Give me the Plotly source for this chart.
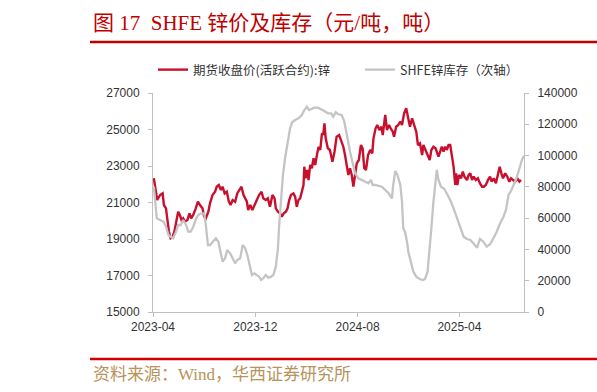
import plotly.graph_objects as go

# ---------------- data ----------------
price_dates = [
    "2023-04-03","2023-04-06","2023-04-11","2023-04-18","2023-04-24","2023-04-27","2023-05-02","2023-05-05",
    "2023-05-09","2023-05-13","2023-05-18","2023-05-22","2023-05-26","2023-05-31","2023-06-04","2023-06-08",
    "2023-06-12","2023-06-16","2023-06-22","2023-06-27","2023-07-01","2023-07-06","2023-07-12","2023-07-17",
    "2023-07-22","2023-07-28","2023-08-01","2023-08-05","2023-08-11","2023-08-15","2023-08-21","2023-08-27",
    "2023-08-31","2023-09-05","2023-09-10","2023-09-14","2023-09-19","2023-09-24","2023-09-29","2023-10-03",
    "2023-10-08","2023-10-14","2023-10-19","2023-10-24","2023-10-29","2023-11-03","2023-11-07","2023-11-11",
    "2023-11-14","2023-11-19","2023-11-24","2023-11-29","2023-12-05","2023-12-10","2023-12-16","2023-12-20",
    "2023-12-26","2023-12-31","2024-01-05","2024-01-11","2024-01-16","2024-01-19","2024-01-24","2024-01-29",
    "2024-02-02","2024-02-07","2024-02-12","2024-02-16","2024-02-20","2024-02-24","2024-03-01","2024-03-05",
    "2024-03-09","2024-03-13","2024-03-17","2024-03-21","2024-03-25","2024-03-27","2024-03-30","2024-04-03",
    "2024-04-06","2024-04-10","2024-04-14","2024-04-18","2024-04-22","2024-04-26","2024-04-30","2024-05-04",
    "2024-05-08","2024-05-11","2024-05-14","2024-05-17","2024-05-22","2024-05-27","2024-06-02","2024-06-07",
    "2024-06-12","2024-06-18","2024-06-24","2024-06-28","2024-07-02","2024-07-06","2024-07-10","2024-07-14",
    "2024-07-18","2024-07-22","2024-07-26","2024-07-30","2024-08-04","2024-08-09","2024-08-13","2024-08-17",
    "2024-08-21","2024-08-26","2024-08-31","2024-09-05","2024-09-08","2024-09-13","2024-09-17","2024-09-22",
    "2024-09-27","2024-09-30","2024-10-03","2024-10-06","2024-10-10","2024-10-15","2024-10-19","2024-10-24",
    "2024-10-27","2024-11-01","2024-11-06","2024-11-11","2024-11-15","2024-11-20","2024-11-25","2024-11-30",
    "2024-12-04","2024-12-09","2024-12-14","2024-12-19","2024-12-23","2024-12-28","2025-01-02","2025-01-05",
    "2025-01-10","2025-01-15","2025-01-20","2025-01-24","2025-01-29","2025-02-03","2025-02-08","2025-02-10",
    "2025-02-14","2025-02-18","2025-02-22","2025-02-26","2025-03-02","2025-03-06","2025-03-10","2025-03-14",
    "2025-03-18","2025-03-22","2025-03-24","2025-03-27","2025-03-31","2025-04-05","2025-04-09","2025-04-13",
    "2025-04-19","2025-04-23","2025-04-27","2025-05-01","2025-05-05","2025-05-10","2025-05-15","2025-05-20",
    "2025-05-25","2025-05-29","2025-06-03","2025-06-08","2025-06-13","2025-06-17","2025-06-22","2025-06-27",
    "2025-07-02","2025-07-06","2025-07-10","2025-07-14","2025-07-19","2025-07-24","2025-07-29","2025-08-02",
    "2025-08-07","2025-08-12","2025-08-17","2025-08-22","2025-08-26",
]
price_values = [
    22330,21780,21137,21411,21500,20863,20680,20134,
    19400,19038,19126,19400,19948,20496,20315,20041,
    20134,19948,20041,20406,20134,20315,20680,21044,
    20863,20680,20224,20134,20496,20954,21411,21592,
    21866,21959,21685,21866,21500,21592,21044,20863,
    21137,21044,21500,21685,21866,21411,21228,21044,
    20589,20863,20589,20863,21137,21411,21592,21228,
    21137,21228,20771,21411,21228,20680,20496,20406,
    20224,20406,20496,20680,21137,21411,21500,21320,
    20771,21137,21228,21592,21959,22963,22326,22781,
    22233,23055,22874,23422,23055,23603,24057,23877,
    24792,24699,25340,24518,23970,23877,23238,23785,
    24608,24699,24240,24057,23603,23055,22507,22874,
    22507,21866,22690,23148,23329,24150,23970,22874,
    22781,23603,23877,23696,24518,25066,25247,24973,
    25153,24699,25247,25795,24973,25247,25066,24880,
    24608,25153,25247,25430,25247,25886,26160,25613,
    25153,25613,25247,24880,24150,24240,23603,24150,
    23877,23603,23329,23877,24057,23970,23696,23512,
    23785,24057,23785,24057,23877,24150,24150,23603,
    22963,21959,22600,21959,22507,22326,22690,22417,
    22233,22507,22600,22233,22417,22233,22326,22050,
    21866,21866,21959,22233,22417,22141,22326,22050,
    22507,22963,22600,22326,22600,22417,22141,22326,
    22233,22141,22326,22141,22233,
]

stock_dates = [
    "2023-04-03","2023-04-10","2023-04-18","2023-04-26","2023-05-02","2023-05-08","2023-05-13","2023-05-19",
    "2023-05-26","2023-05-31","2023-06-06","2023-06-12","2023-06-19","2023-06-24","2023-06-30","2023-07-06",
    "2023-07-13","2023-07-18","2023-07-26","2023-08-01","2023-08-05","2023-08-10","2023-08-15","2023-08-21",
    "2023-08-29","2023-09-04","2023-09-10","2023-09-14","2023-09-20","2023-09-25","2023-10-02","2023-10-08",
    "2023-10-14","2023-10-19","2023-10-26","2023-11-01","2023-11-07","2023-11-12","2023-11-17","2023-11-23",
    "2023-11-29","2023-12-05","2023-12-10","2023-12-15","2023-12-20","2023-12-26","2024-01-01","2024-01-08",
    "2024-01-13","2024-01-19","2024-01-24","2024-01-27","2024-01-31","2024-02-05","2024-02-10","2024-02-16",
    "2024-02-22","2024-02-27","2024-03-05","2024-03-13","2024-03-21","2024-03-27","2024-04-02","2024-04-07",
    "2024-04-14","2024-04-20","2024-04-28","2024-05-06","2024-05-14","2024-05-22","2024-05-30","2024-06-04",
    "2024-06-10","2024-06-16","2024-06-24","2024-06-30","2024-07-02","2024-07-08","2024-07-14","2024-07-21",
    "2024-07-26","2024-08-03","2024-08-11","2024-08-19","2024-08-27","2024-09-02","2024-09-06","2024-09-12",
    "2024-09-20","2024-09-28","2024-10-06","2024-10-14","2024-10-22","2024-10-25","2024-10-30","2024-11-04",
    "2024-11-11","2024-11-15","2024-11-18","2024-11-22","2024-11-27","2024-11-30","2024-12-06","2024-12-12",
    "2024-12-19","2024-12-27","2025-01-04","2025-01-09","2025-01-15","2025-01-19","2025-01-24","2025-01-29",
    "2025-02-03","2025-02-06","2025-02-10","2025-02-16","2025-02-24","2025-03-04","2025-03-10","2025-03-18",
    "2025-03-26","2025-04-03","2025-04-11","2025-04-19","2025-04-27","2025-05-04","2025-05-13","2025-05-20",
    "2025-05-28","2025-06-05","2025-06-13","2025-06-21","2025-06-29","2025-07-07","2025-07-15","2025-07-21",
    "2025-07-27","2025-08-02","2025-08-09","2025-08-15","2025-08-21","2025-08-28","2025-09-02",
]
stock_values = [
    80100,59900,58800,57730,54530,49230,48140,47120,
    51330,55620,55620,58820,55620,51330,51330,54530,
    59900,62010,63100,63100,55620,42830,42830,44940,
    47120,44940,36440,32160,34330,39640,37530,34330,
    31130,33240,34330,42830,40720,36440,30050,23650,
    24740,23650,22570,20460,21540,23650,21930,22570,
    23650,28960,40720,55620,72690,87580,98260,108870,
    117440,121270,122750,123830,125940,129140,131250,129140,
    129780,130610,130610,129780,128500,127030,127030,124860,
    127670,126390,125940,122000,119550,111050,102480,93980,
    88670,85470,84390,83300,82280,84390,81190,81190,
    80740,80100,78000,75880,72690,81190,90140,87580,
    81190,70500,53510,51330,44940,38550,32160,25760,
    22570,21100,20460,21100,25760,36440,53510,70500,
    83300,90780,84390,80100,78640,74800,71600,66300,
    59900,53510,48140,46670,46030,43920,41110,46670,
    44940,41750,43280,47120,51330,56700,60930,65210,
    74800,77350,81190,85470,90780,97170,99920,
]

x_tick_vals = ["2023-04-01", "2023-12-01", "2024-08-01", "2025-04-01"]
x_tick_text = ["2023-04", "2023-12", "2024-08", "2025-04"]
left_ticks = [15000, 17000, 19000, 21000, 23000, 25000, 27000]
right_ticks = [0, 20000, 40000, 60000, 80000, 100000, 120000, 140000]

name_price = "期货收盘价(活跃合约):锌"
name_stock = "SHFE锌库存（次轴）"
title_text = "图 17  SHFE 锌价及库存（元/吨，吨）"
source_text = "资料来源：Wind，华西证券研究所"

# ---------------- layout helpers ----------------
W, H = 597, 392
L, R, T, B = 153, 524, 93, 312


def px(x):
    return (x - L) / (R - L)


def py(y):
    return (B - y) / (B - T)


RED = "#C8102E"
GRAY = "#C4C4C4"
AXIS = "#BFBFBF"
TICKFONT = dict(family="Liberation Sans, Arial, sans-serif", size=12, color="#333333")
CJK = "Noto Sans CJK SC, Noto Sans, sans-serif"
SERIF = "Liberation Serif, Times New Roman, Noto Sans CJK SC, serif"

fig = go.Figure()
fig.add_trace(go.Scatter(
    x=stock_dates, y=stock_values, name=name_stock, yaxis="y2", mode="lines",
    line=dict(color=GRAY, width=2.3), legend="legend2",
))
fig.add_trace(go.Scatter(
    x=price_dates, y=price_values, name=name_price, yaxis="y", mode="lines",
    line=dict(color=RED, width=2.4), legend="legend",
))

fig.update_layout(
    width=W, height=H,
    margin=dict(l=L, r=W - R, t=T, b=H - B, pad=0),
    paper_bgcolor="white", plot_bgcolor="white",
    xaxis=dict(
        type="date", range=["2023-04-01", "2025-09-02"],
        tickvals=x_tick_vals, ticktext=x_tick_text,
        showgrid=False, zeroline=False, showline=True, linecolor=AXIS, linewidth=1,
        ticks="outside", ticklen=4, tickcolor=AXIS, tickfont=TICKFONT,
    ),
    yaxis=dict(
        range=[15000, 27000], tickvals=left_ticks, tickformat="d", showgrid=False, zeroline=False,
        showline=True, linecolor=AXIS, linewidth=1, ticks="outside", ticklen=4,
        tickcolor=AXIS, tickfont=TICKFONT, ticklabelstandoff=6,
    ),
    yaxis2=dict(
        range=[0, 140000], tickvals=right_ticks, tickformat="d", overlaying="y", side="right",
        showgrid=False, zeroline=False, showline=True, linecolor=AXIS, linewidth=1,
        ticks="outside", ticklen=4, tickcolor=AXIS, tickfont=TICKFONT, ticklabelstandoff=6,
    ),
    legend=dict(
        x=px(153), y=py(70), xanchor="left", yanchor="middle", orientation="h",
        font=dict(family=CJK, size=12.5, color="#333333"), bgcolor="rgba(0,0,0,0)",
        itemwidth=30,
    ),
    legend2=dict(
        x=px(360), y=py(70), xanchor="left", yanchor="middle", orientation="h",
        font=dict(family=CJK, size=12.5, color="#333333"), bgcolor="rgba(0,0,0,0)",
        itemwidth=30,
    ),
    showlegend=True,
)

fig.add_annotation(
    x=px(91), y=py(23), xref="paper", yref="paper", xanchor="left", yanchor="middle",
    text=title_text, showarrow=False, font=dict(family=SERIF, size=21, color="#C00000"),
)
fig.add_annotation(
    x=px(91), y=py(374), xref="paper", yref="paper", xanchor="left", yanchor="middle",
    text=source_text, showarrow=False, font=dict(family=SERIF, size=17, color="#B8935A"),
)
fig.add_shape(type="line", xref="paper", yref="paper", x0=px(90), x1=px(597), y0=py(42), y1=py(42),
              line=dict(color="#C00000", width=2.5))
fig.add_shape(type="line", xref="paper", yref="paper", x0=px(90), x1=px(597), y0=py(359), y1=py(359),
              line=dict(color="#D00000", width=2.5))

fig.write_html("out.html", config={"displayModeBar": False},
               post_script="document.body.style.margin='0';")
